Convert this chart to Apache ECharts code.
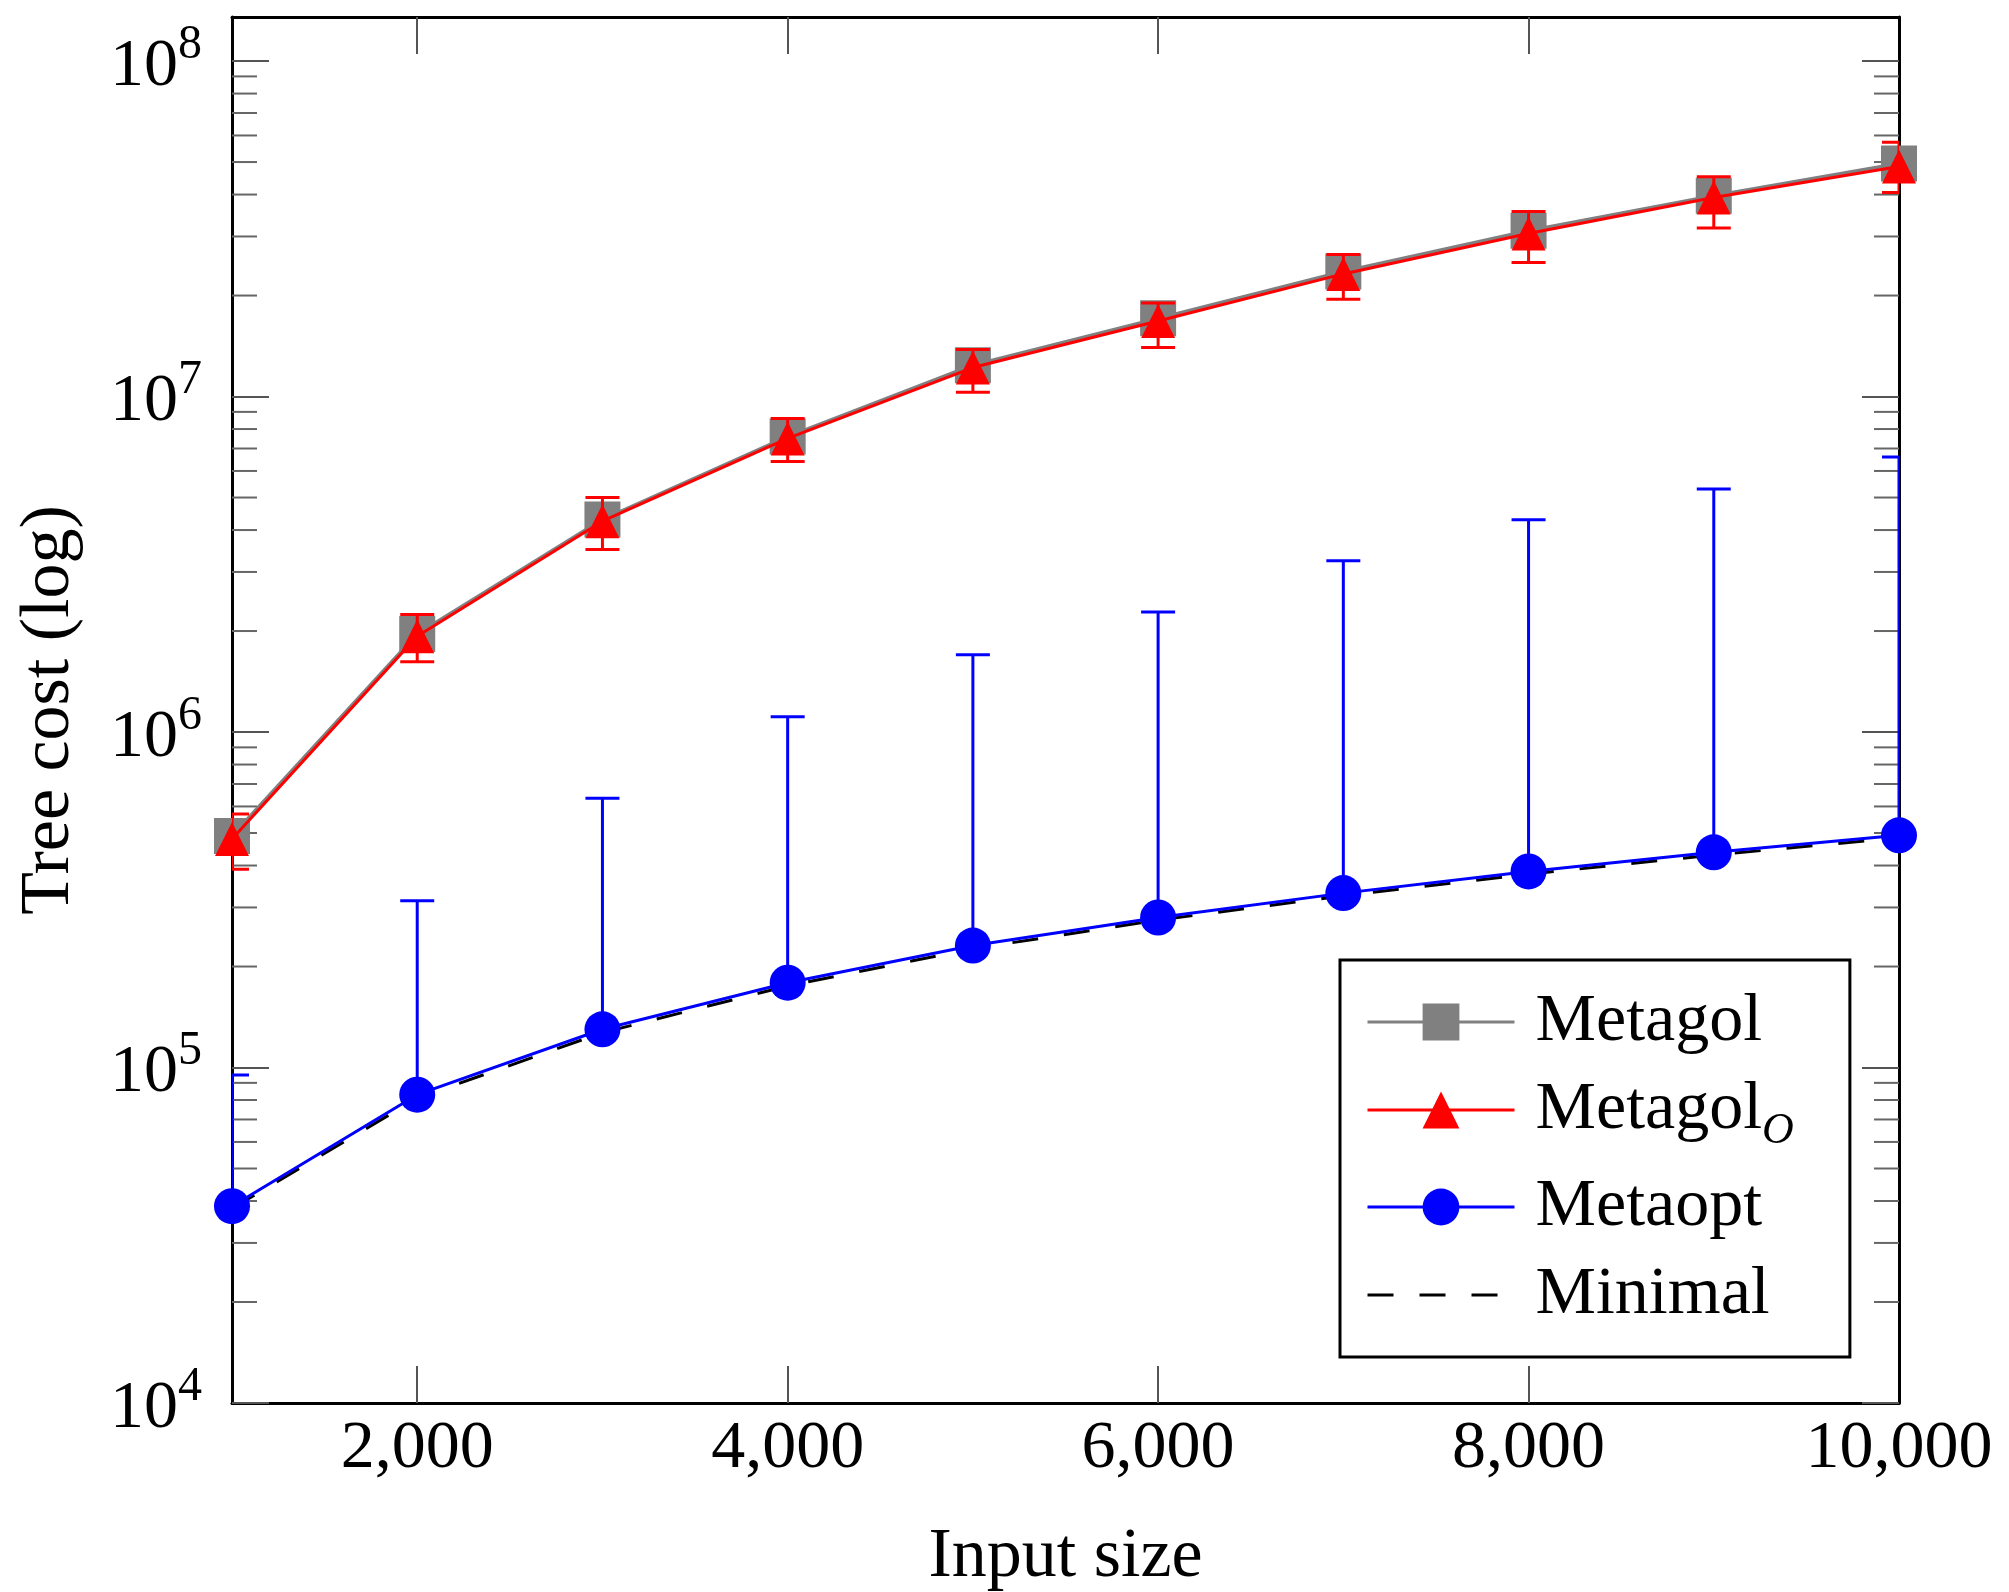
<!DOCTYPE html>
<html>
<head>
<meta charset="utf-8">
<script src="https://cdn.jsdelivr.net/npm/echarts@6/dist/echarts.min.js"></script>
<style>
  html, body { margin: 0; padding: 0; background: #fff; }
  #main { width: 2009px; height: 1592px; }
</style>
</head>
<body>
<div id="main"></div>
<script>
// data
const inputSizes = [1000, 2000, 3000, 4000, 5000, 6000, 7000, 8000, 9000, 10000]
const metagol = [4.9e5, 1.96e6, 4.3e6, 7.6e6, 1.24e7, 1.71e7, 2.36e7, 3.12e7, 3.97e7, 4.95e7]
const metagolO = [4.8e5, 1.93e6, 4.25e6, 7.5e6, 1.22e7, 1.68e7, 2.32e7, 3.06e7, 3.92e7, 4.85e7]
const metagolOLow = [3.9e5, 1.62e6, 3.5e6, 6.4e6, 1.03e7, 1.40e7, 1.95e7, 2.51e7, 3.18e7, 4.06e7]
const metagolOHigh = [5.7e5, 2.24e6, 5.0e6, 8.6e6, 1.38e7, 1.90e7, 2.65e7, 3.56e7, 4.52e7, 5.73e7]
const metaopt = [3.86e4, 8.3e4, 1.30e5, 1.79e5, 2.31e5, 2.80e5, 3.31e5, 3.84e5, 4.38e5, 4.92e5]
const metaoptHigh = [9.5e4, 3.14e5, 6.35e5, 1.11e6, 1.70e6, 2.28e6, 3.24e6, 4.29e6, 5.30e6, 6.6e6]
const minimal = [3.8e4, 8.1e4, 1.27e5, 1.75e5, 2.26e5, 2.75e5, 3.25e5, 3.77e5, 4.30e5, 4.84e5]

// axis ticks
const xLabelTicks = [2000, 4000, 6000, 8000, 10000]
const xInnerTicks = [2000, 4000, 6000, 8000]
const yTicks = [1e4, 1e5, 1e6, 1e7, 1e8]
const minorSteps = [2, 3, 4, 5, 6, 7, 8, 9]

const FONT = 'Liberation Serif'
const minorTicks = []
yTicks.slice(0, -1).forEach(d => minorSteps.forEach(m => minorTicks.push([1000, d * m])))

function pairs(ys) {
  return inputSizes.map((x, i) => [x, ys[i]])
}

// error bar: [x, low, high, lowCap]
function errorBar(params, api) {
  const x = api.value(0)
  const lo = api.coord([x, api.value(1)])
  const hi = api.coord([x, api.value(2)])
  const half = 17
  const style = { stroke: api.visual('color'), lineWidth: 3 }
  const kids = [
    { type: 'line', shape: { x1: lo[0], y1: lo[1], x2: hi[0], y2: hi[1] }, style: style },
    { type: 'line', shape: { x1: hi[0] - half, y1: hi[1], x2: hi[0] + half, y2: hi[1] }, style: style }
  ]
  if (api.value(3)) {
    kids.push({ type: 'line', shape: { x1: lo[0] - half, y1: lo[1], x2: lo[0] + half, y2: lo[1] }, style: style })
  }
  return { type: 'group', children: kids }
}

function minorTick(params, api) {
  const p = api.coord([api.value(0), api.value(1)])
  const cs = params.coordSys
  const style = { stroke: '#666', lineWidth: 2 }
  return {
    type: 'group',
    children: [
      { type: 'line', shape: { x1: cs.x, y1: p[1], x2: cs.x + 25, y2: p[1] }, style: style },
      { type: 'line', shape: { x1: cs.x + cs.width - 25, y1: p[1], x2: cs.x + cs.width, y2: p[1] }, style: style }
    ]
  }
}

const yLabelRich = {
  b: { fontSize: 68, fontFamily: FONT, color: '#000', lineHeight: 80, verticalAlign: 'bottom' },
  s: { fontSize: 48, fontFamily: FONT, color: '#000', lineHeight: 56, verticalAlign: 'top' }
}

const frameLine = { show: true, lineStyle: { color: '#000', width: 3 } }
const majorTick = { show: true, inside: true, length: 37, lineStyle: { color: '#555', width: 2 } }

const chart = echarts.init(document.getElementById('main'))
chart.setOption({
  animation: false,
  backgroundColor: '#fff',
  grid: { left: 232, top: 17, width: 1667, height: 1386, containLabel: false, outerBoundsMode: 'none' },
  xAxis: [
    {
      type: 'value', min: 1000, max: 10000, position: 'bottom',
      axisLine: frameLine,
      axisTick: Object.assign({ customValues: xInnerTicks }, majorTick),
      axisLabel: {
        customValues: xLabelTicks, margin: 12, fontSize: 68, fontFamily: FONT, color: '#000',
        formatter: v => v.toLocaleString('en-US')
      },
      splitLine: { show: false },
      name: 'Input size', nameLocation: 'middle', nameGap: 120,
      nameTextStyle: { fontSize: 70, fontFamily: FONT, color: '#000' }
    },
    {
      type: 'value', min: 1000, max: 10000, position: 'top',
      axisLine: frameLine,
      axisTick: Object.assign({ customValues: xInnerTicks }, majorTick),
      axisLabel: { show: false },
      splitLine: { show: false }
    }
  ],
  yAxis: [
    {
      type: 'log', logBase: 10, min: 1e4, max: 1.353e8, position: 'left',
      axisLine: frameLine,
      axisTick: Object.assign({ customValues: yTicks }, majorTick),
      axisLabel: {
        customValues: yTicks, margin: 30,
        formatter: v => '{b|10}{s|' + Math.round(Math.log10(v)) + '}',
        rich: yLabelRich
      },
      splitLine: { show: false },
      name: 'Tree cost (log)', nameLocation: 'middle', nameGap: 147,
      nameTextStyle: { fontSize: 70, fontFamily: FONT, color: '#000' }
    },
    {
      type: 'log', logBase: 10, min: 1e4, max: 1.353e8, position: 'right',
      axisLine: frameLine,
      axisTick: Object.assign({ customValues: yTicks }, majorTick),
      axisLabel: { show: false },
      splitLine: { show: false }
    }
  ],
  legend: {
    data: ['Metagol', 'Metagol_O', 'Metaopt', { name: 'Minimal', itemStyle: { opacity: 0 } }],
    orient: 'vertical',
    left: 1340, top: 960,
    padding: [28, 56, 28, 26],
    itemWidth: 147, itemHeight: 46, itemGap: 20,
    borderColor: '#000', borderWidth: 3, backgroundColor: '#fff',
    lineStyle: { width: 3 },
    formatter: name => name === 'Metagol_O' ? '{a|Metagol}{o|O}' : '{a|' + name + '}',
    textStyle: {
      padding: [0, 0, 0, 16],
      rich: {
        a: { fontSize: 68, fontFamily: FONT, color: '#000', lineHeight: 86 },
        o: { fontSize: 44, fontFamily: FONT, fontStyle: 'italic', color: '#000', lineHeight: 20, verticalAlign: 'bottom' }
      }
    }
  },
  series: [
    {
      name: 'minor ticks', type: 'custom', silent: true, clip: false, z: 1,
      renderItem: minorTick, data: minorTicks
    },
    {
      name: 'Metagol', type: 'line', data: pairs(metagol),
      symbol: 'rect', symbolSize: 36, z: 2,
      color: '#808080',
      lineStyle: { color: '#808080', width: 3.5 },
      itemStyle: { color: '#808080' }
    },
    {
      name: 'Metagol_O err', type: 'custom', clip: true, z: 3,
      renderItem: errorBar, encode: { x: 0, y: [1, 2] },
      itemStyle: { color: '#ff0000' },
      data: inputSizes.map((x, i) => [x, metagolOLow[i], metagolOHigh[i], 1])
    },
    {
      name: 'Metagol_O', type: 'line', data: pairs(metagolO),
      symbol: 'triangle', symbolSize: 34, z: 4,
      color: '#ff0000',
      lineStyle: { color: '#ff0000', width: 3 },
      itemStyle: { color: '#ff0000' }
    },
    {
      name: 'Minimal', type: 'line', data: pairs(minimal),
      symbol: 'none', z: 5,
      color: '#000',
      lineStyle: { color: '#000', width: 3, type: [26, 26] }
    },
    {
      name: 'Metaopt err', type: 'custom', clip: true, z: 6,
      renderItem: errorBar, encode: { x: 0, y: [1, 2] },
      itemStyle: { color: '#0000ff' },
      data: inputSizes.map((x, i) => [x, metaopt[i], metaoptHigh[i], 0])
    },
    {
      name: 'Metaopt', type: 'line', data: pairs(metaopt),
      symbol: 'circle', symbolSize: 36, z: 7,
      color: '#0000ff',
      lineStyle: { color: '#0000ff', width: 3 },
      itemStyle: { color: '#0000ff' }
    }
  ]
})
</script>
</body>
</html>
